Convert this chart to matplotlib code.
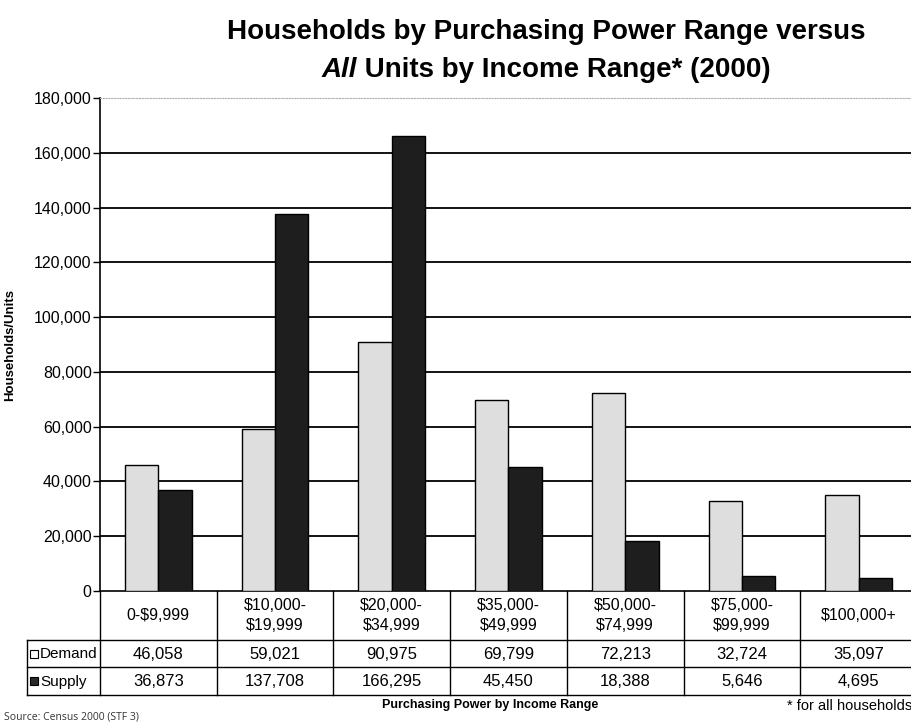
import matplotlib
matplotlib.use("Agg")
import matplotlib.pyplot as plt
from matplotlib.lines import Line2D
from matplotlib.patches import Rectangle
import numpy as np

categories = ["0-$9,999", "$10,000-\n$19,999", "$20,000-\n$34,999", "$35,000-\n$49,999",
              "$50,000-\n$74,999", "$75,000-\n$99,999", "$100,000+"]
demand = [46058, 59021, 90975, 69799, 72213, 32724, 35097]
supply = [36873, 137708, 166295, 45450, 18388, 5646, 4695]
series_names = ["Demand", "Supply"]
yticks = [0, 20000, 40000, 60000, 80000, 100000, 120000, 140000, 160000, 180000]

W, H = 912, 726
fig = plt.figure(figsize=(W / 100, H / 100), dpi=100)
plt.rcParams['font.family'] = ['Liberation Sans', 'DejaVu Sans']
narrow = ['Liberation Sans Narrow', 'Liberation Sans', 'DejaVu Sans']

def fx(px):
    return px / W

def fy(py):
    return 1 - py / H

ax_left, ax_right, ax_top, ax_bottom = 100, 917, 98, 591
ax = fig.add_axes([fx(ax_left), fy(ax_bottom), fx(ax_right - ax_left), (ax_bottom - ax_top) / H])

x = np.arange(len(categories))
bw = 0.286
ax.bar(x - bw / 2, demand, bw, color="#dedede", edgecolor="black", linewidth=1.0, zorder=3)
ax.bar(x + bw / 2, supply, bw, color="#1e1e1e", edgecolor="black", linewidth=1.0, zorder=3)
ax.set_xlim(-0.5, len(categories) - 0.5)
ax.set_ylim(0, 180000)
ax.set_yticks(yticks)
ax.set_yticklabels([f"{v:,}" for v in yticks], fontsize=11.5)
ax.set_xticks([])
ax.tick_params(axis="y", direction="out", length=5, width=1.0, pad=1, color="black")
for v in yticks[1:-1]:
    ax.axhline(v, color="black", linewidth=1.3, zorder=1)
ax.spines["right"].set_visible(False)
ax.spines["top"].set_color("#b0b0b0")
ax.spines["top"].set_linestyle((0, (1, 1.5)))
ax.spines["left"].set_linewidth(1.2)
ax.spines["bottom"].set_linewidth(1.2)

fig.text(fx(10), fy(345), "Households/Units", rotation=90, fontsize=9.5, fontweight="bold",
         ha="center", va="center")

# Title
fig.text(fx(546), fy(32), "Households by Purchasing Power Range versus", fontsize=20,
         fontweight="bold", family=narrow, ha="center", va="center")
renderer = fig.canvas.get_renderer()
t1 = fig.text(0, fy(70), "All", fontsize=20, fontweight="bold", style="italic", family=narrow,
              ha="left", va="center")
t2 = fig.text(0, fy(70), " Units by Income Range* (2000)", fontsize=20, fontweight="bold",
              family=narrow, ha="left", va="center")
w1 = t1.get_window_extent(renderer).width
w2 = t2.get_window_extent(renderer).width
start = 546 - (w1 + w2) / 2
t1.set_x(fx(start))
t2.set_x(fx(start + w1))

# Data table
row_cat_bottom, row_dem_bottom, row_sup_bottom = 640, 667, 695
col_w = (ax_right - ax_left) / len(categories)
lw = 1.0
def hline(y, x0, x1):
    fig.add_artist(Line2D([fx(x0), fx(x1)], [fy(y), fy(y)], color="black", linewidth=lw))
def vline(x0, y0, y1):
    fig.add_artist(Line2D([fx(x0), fx(x0)], [fy(y0), fy(y1)], color="black", linewidth=lw))

hline(row_cat_bottom, 27, W)
hline(row_dem_bottom, 27, W)
hline(row_sup_bottom, 27, W)
vline(27, row_cat_bottom, row_sup_bottom)
for i in range(len(categories) + 1):
    vline(ax_left + i * col_w, ax_bottom, row_sup_bottom)

for i, cat in enumerate(categories):
    cx = ax_left + (i + 0.5) * col_w
    fig.text(fx(cx), fy((ax_bottom + row_cat_bottom) / 2), cat, fontsize=11.5, ha="center",
             va="center", linespacing=1.35)
    fig.text(fx(cx), fy((row_cat_bottom + row_dem_bottom) / 2 + 1), f"{demand[i]:,}", fontsize=12,
             ha="center", va="center")
    fig.text(fx(cx), fy((row_dem_bottom + row_sup_bottom) / 2 + 1), f"{supply[i]:,}", fontsize=12,
             ha="center", va="center")

# legend keys
for (ytop, ybot), name, col in [((row_cat_bottom, row_dem_bottom), series_names[0], "white"),
                                ((row_dem_bottom, row_sup_bottom), series_names[1], "#2a2a2a")]:
    cy = (ytop + ybot) / 2
    fig.add_artist(Rectangle((fx(30), fy(cy + 4)), 8 / W, 8 / H, facecolor=col,
                             edgecolor="black", linewidth=0.8))
    fig.text(fx(40), fy(cy + 1), name, fontsize=11, ha="left", va="center")

fig.text(fx(490), fy(705), "Purchasing Power by Income Range", fontsize=9, fontweight="bold",
         family=narrow, ha="center", va="center")
fig.text(fx(912), fy(706), "* for all households", fontsize=10.5, family=narrow,
         ha="right", va="center")
fig.text(fx(4), fy(717), "Source: Census 2000 (STF 3)", fontsize=7.5, color="#333333",
         family=["Open Sans", "DejaVu Sans"], ha="left", va="center")

fig.savefig("out.png", dpi=100)
